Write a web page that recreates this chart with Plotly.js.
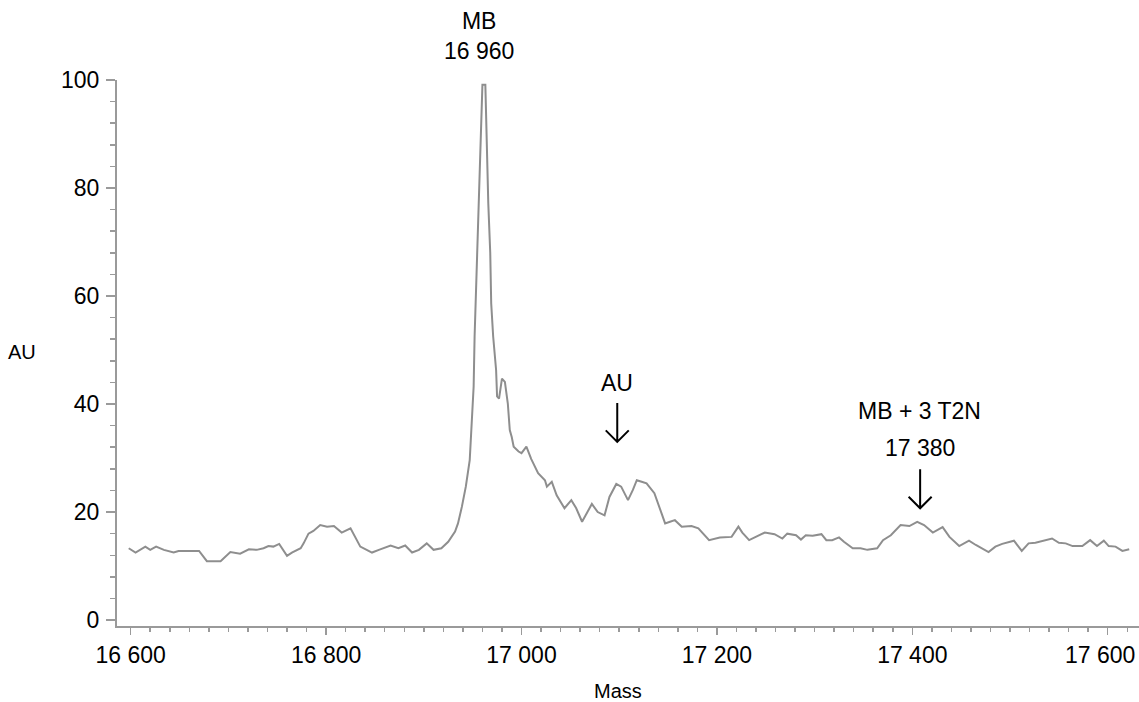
<!DOCTYPE html>
<html>
<head>
<meta charset="utf-8">
<script src="https://cdn.plot.ly/plotly-3.0.1.min.js"></script>
<style>html,body{margin:0;padding:0;background:#fff;}#chart{width:1139px;height:702px;}</style>
</head>
<body>
<div id="chart"></div>
<script>
const mass = [16598,16605,16615,16620,16626,16634,16644,16649,16670,16678,16692,16702,16712,16721,16729,16736,16741,16746,16752,16760,16765,16774,16777,16782,16787,16794,16801,16808,16816,16825,16835,16840,16847,16854,16866,16874,16881,16888,16895,16903,16910,16918,16925,16932,16935,16939,16943,16947,16949,16951,16952,16954,16956,16958,16960,16963,16964,16966,16968,16969,16971,16974,16975,16977,16980,16983,16986,16988,16990,16992,16997,17000,17005,17010,17017,17024,17026,17031,17036,17044,17051,17056,17062,17072,17078,17085,17090,17097,17102,17109,17114,17118,17123,17128,17136,17141,17147,17152,17157,17164,17174,17181,17186,17192,17203,17215,17222,17226,17233,17240,17249,17259,17267,17272,17281,17286,17291,17298,17307,17312,17318,17325,17330,17339,17347,17354,17364,17370,17378,17388,17397,17405,17412,17421,17427,17431,17438,17448,17458,17465,17478,17485,17492,17499,17504,17512,17519,17526,17536,17543,17550,17557,17564,17574,17582,17589,17596,17601,17608,17615,17622];
const au = [13.3,12.5,13.6,13.0,13.6,13.0,12.5,12.8,12.8,10.9,10.9,12.6,12.3,13.1,13.0,13.3,13.7,13.6,14.1,11.9,12.5,13.3,14.2,16.0,16.5,17.6,17.3,17.4,16.2,17.0,13.6,13.1,12.5,13.0,13.8,13.3,13.8,12.5,13.0,14.2,13.0,13.3,14.5,16.4,17.9,21.0,24.7,29.6,37.0,43.2,52.5,64.8,77.2,89.5,99.1,99.1,89.5,77.2,68.0,58.6,52.5,46.3,41.4,41.0,44.7,44.1,40.1,35.2,33.9,32.1,31.2,30.9,32.1,29.8,27.2,25.9,24.7,25.6,23.1,20.7,22.2,20.7,18.2,21.5,20.0,19.4,22.8,25.2,24.7,22.2,24.1,25.9,25.6,25.3,23.5,21.0,17.9,18.2,18.5,17.3,17.4,17.0,16.0,14.8,15.3,15.4,17.3,16.2,14.8,15.4,16.2,15.9,15.1,16.0,15.7,14.9,15.7,15.6,15.9,14.8,14.8,15.3,14.5,13.3,13.3,13.0,13.3,14.8,15.7,17.6,17.4,18.2,17.6,16.2,16.8,17.2,15.4,13.7,14.7,13.9,12.6,13.6,14.1,14.5,14.7,12.8,14.2,14.3,14.8,15.1,14.3,14.2,13.7,13.7,14.8,13.7,14.7,13.7,13.6,12.8,13.1];

const xTickVals = [16600,16800,17000,17200,17400,17600];
const xTickText = ['16 600','16 800','17 000','17 200','17 400','17 600'];
const yTickVals = [0,20,40,60,80,100];
const yTickText = ['0','20','40','60','80','100'];

// annotation labels and arrow anchors (mass, AU)
const labelTexts = ['AU', 'MB + 3 T2N', '17 380'];
const labelMass = [17098, 17407, 17408];
const labelAU = [43.9, 38.7, 31.9];
const arrowMass = [17098, 17408];
const arrowAU = [36.6, 24.3];

const FONT = 'Liberation Sans, Arial, Helvetica, sans-serif';
const AX = '#9a9a9a';
const FS = 23;

const trace = {
  x: mass, y: au, type: 'scatter', mode: 'lines',
  line: {color: '#8e8e8e', width: 2},
  hoverinfo: 'x+y'
};

const ann = (o) => Object.assign({showarrow: false, xanchor: 'center', yanchor: 'middle', font: {family: FONT, size: FS, color: '#000'}}, o);

// last x tick label sits slightly left of its tick (as in the reference) so it stays inside the page
const lastIdx = xTickVals.length - 1;
const axisTickText = xTickText.map((t, i) => i === lastIdx ? '' : t);

const annotations = [
  ann({text: 'MB<br>16 960', xref: 'x', x: 16957, yref: 'paper', y: 1.0815}),
  ann({text: 'AU', xref: 'paper', x: -0.093, yref: 'paper', y: 0.502, font: {family: FONT, size: 20, color: '#000'}}),
  ann({text: 'Mass', xref: 'paper', x: 0.49, yref: 'paper', y: -0.119, font: {family: FONT, size: 20, color: '#000'}}),
  ann({text: xTickText[lastIdx], xref: 'x', x: xTickVals[lastIdx], xshift: -8, yref: 'paper', y: -0.0531})
];
labelTexts.forEach((t, i) => annotations.push(ann({text: t, xref: 'x', x: labelMass[i], yref: 'y', y: labelAU[i]})));

const shapes = arrowMass.map((m, i) => ({
  type: 'path', xref: 'x', yref: 'y', xsizemode: 'pixel', ysizemode: 'pixel',
  xanchor: m, yanchor: arrowAU[i],
  path: 'M 0 19.5 L 0 -19.5 M -11.5 -8 L 0 -19.5 L 11.5 -8',
  line: {color: '#000', width: 2}
}));

const layout = {
  width: 1139, height: 702,
  margin: {l: 117, r: 0, t: 80, b: 76},
  paper_bgcolor: '#fff', plot_bgcolor: '#fff',
  font: {family: FONT, size: FS, color: '#000'},
  showlegend: false,
  xaxis: {
    range: [16586, 17632], tickmode: 'array', tickvals: xTickVals, ticktext: axisTickText,
    ticks: 'outside', ticklen: 7, tickwidth: 1.5, tickcolor: AX,
    showline: true, linecolor: AX, linewidth: 2, showgrid: false, zeroline: false,
    ticklabelstandoff: 0, ticklabeloverflow: 'allow',
    minor: {tickmode: 'linear', tick0: 16600, dtick: 20, ticks: 'outside', ticklen: 4, tickwidth: 1.5, tickcolor: AX, showgrid: false}
  },
  yaxis: {
    range: [-1.1, 100], tickmode: 'array', tickvals: yTickVals, ticktext: yTickText,
    ticks: 'outside', ticklen: 9, tickwidth: 1.5, tickcolor: AX,
    showline: true, linecolor: AX, linewidth: 2, showgrid: false, zeroline: false,
    ticklabelstandoff: 2, ticklabeloverflow: 'allow',
    minor: {tickmode: 'linear', tick0: 0, dtick: 4, ticks: 'outside', ticklen: 5, tickwidth: 1.5, tickcolor: AX, showgrid: false}
  },
  annotations: annotations,
  shapes: shapes
};

Plotly.newPlot('chart', [trace], layout, {displayModeBar: false, staticPlot: true});
</script>
</body>
</html>
